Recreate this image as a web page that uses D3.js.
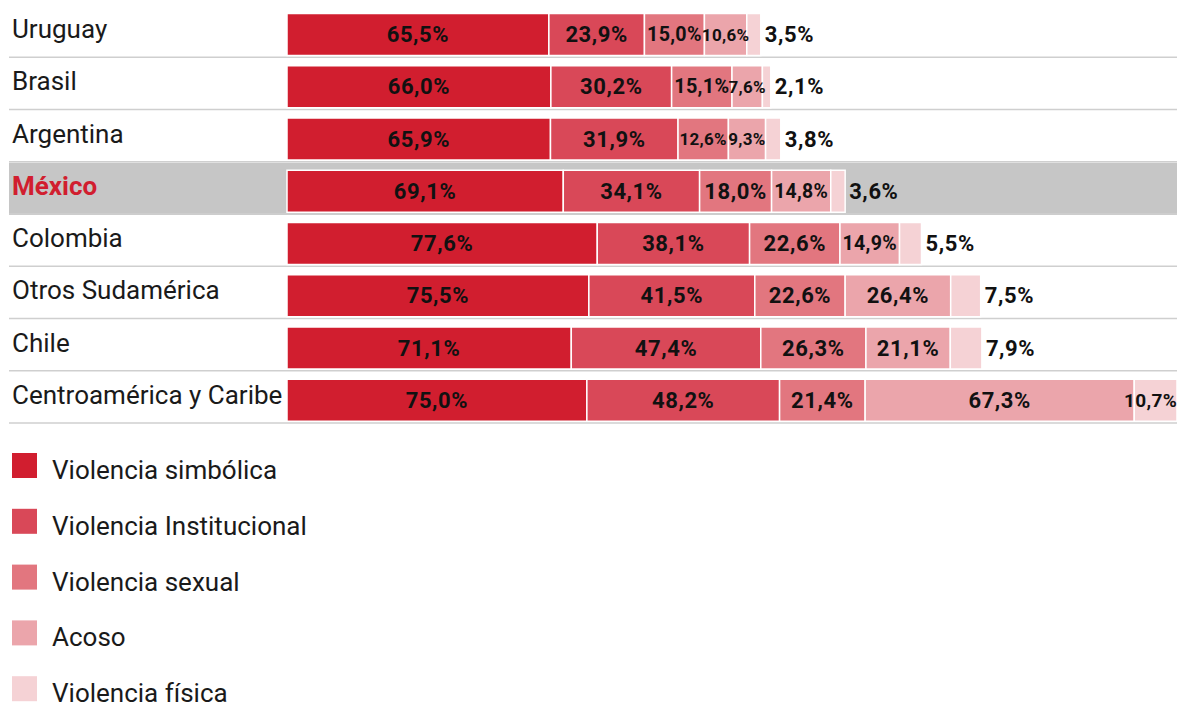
<!DOCTYPE html>
<html lang="es">
<head>
<meta charset="utf-8">
<script src="https://cdn.jsdelivr.net/npm/d3@7"></script>
<style>
  html, body { margin: 0; padding: 0; background: #fff; }
  svg { display: block; font-family: Roboto, "Noto Sans", sans-serif; }
</style>
</head>
<body>
<svg id="chart" width="1179" height="703"></svg>
<script>
// Regiones (filas) y tipos de violencia (segmentos apilados)
const regions = ["Uruguay", "Brasil", "Argentina", "México", "Colombia",
                 "Otros Sudamérica", "Chile", "Centroamérica y Caribe"];
const highlight = "México";

const violenceTypes = ["Violencia simbólica", "Violencia Institucional",
                       "Violencia sexual", "Acoso", "Violencia física"];
const typeColors = ["#d11e2f", "#d94858", "#e2767f", "#eba5ab", "#f5d2d5"];

// Porcentajes por tipo, en el orden de las regiones
const simbolica     = [65.5, 66.0, 65.9, 69.1, 77.6, 75.5, 71.1, 75.0];
const institucional = [23.9, 30.2, 31.9, 34.1, 38.1, 41.5, 47.4, 48.2];
const sexual        = [15.0, 15.1, 12.6, 18.0, 22.6, 22.6, 26.3, 21.4];
const acoso         = [10.6,  7.6,  9.3, 14.8, 14.9, 26.4, 21.1, 67.3];
const fisica        = [ 3.5,  2.1,  3.8,  3.6,  5.5,  7.5,  7.9, 10.7];

const seriesValues = [simbolica, institucional, sexual, acoso, fisica];

const rows = regions.map((r, i) => {
  const o = { region: r };
  violenceTypes.forEach((t, k) => { o[t] = seriesValues[k][i]; });
  return o;
});

const stacked = d3.stack().keys(violenceTypes)(rows);
const maxTotal = d3.max(rows, r => d3.sum(violenceTypes, t => r[t]));

const barLeft = 287, barRight = 1177;
const x = d3.scaleLinear().domain([0, maxTotal]).range([barLeft, barRight]);
const y = d3.scaleBand().domain(regions).range([5, 423]).padding(0);
const color = d3.scaleOrdinal().domain(violenceTypes).range(typeColors);
const fmt = v => d3.format(".1f")(v).replace(".", ",") + "%";

const svg = d3.select("#chart");

// Franja de resaltado
svg.append("rect")
  .attr("x", 9).attr("y", y(highlight) + 1)
  .attr("width", barRight - 9).attr("height", y.bandwidth())
  .attr("fill", "#c6c6c6");

// Separadores entre filas
svg.append("g").selectAll("line")
  .data(regions)
  .join("line")
  .attr("x1", 9).attr("x2", barRight)
  .attr("y1", d => y(d) + y.bandwidth())
  .attr("y2", d => y(d) + y.bandwidth())
  .attr("stroke", "#cfcfcf").attr("stroke-width", 1.5);

// Nombres de región
svg.append("g").selectAll("text")
  .data(regions)
  .join("text")
  .attr("x", 12)
  .attr("y", d => y(d) + 33)
  .attr("font-size", 26)
  .attr("font-weight", d => d === highlight ? 700 : 400)
  .attr("fill", d => d === highlight ? "#d11e2f" : "#1a1a1a")
  .text(d => d);

const barTop = d => y(d) + 8.5;
const barH = 42;

// Segmentos
const layers = svg.append("g").selectAll("g")
  .data(stacked)
  .join("g")
  .attr("fill", d => color(d.key));

layers.selectAll("rect")
  .data(d => d)
  .join("rect")
  .attr("x", d => x(d[0]))
  .attr("y", d => barTop(d.data.region))
  .attr("width", d => x(d[1]) - x(d[0]))
  .attr("height", barH)
  .attr("stroke", "#fff")
  .attr("stroke-width", 1.5);

// Etiquetas de valor
const baseSize = 22;
const labels = svg.append("g");
stacked.forEach((layer, k) => {
  const last = k === stacked.length - 1;
  layer.forEach(d => {
    const v = d[1] - d[0];
    const x0 = x(d[0]), x1 = x(d[1]);
    const t = labels.append("text")
      .attr("y", barTop(d.data.region) + barH / 2)
      .attr("dominant-baseline", "central")
      .attr("font-size", baseSize)
      .attr("font-weight", 700)
      .attr("letter-spacing", 0.6)
      .attr("fill", "#111")
      .text(fmt(v));
    const len = t.node().getComputedTextLength();
    if (last) {
      if (x1 + 4 + len > barRight) {
        t.attr("font-size", 19).attr("letter-spacing", 0.3);
        t.attr("x", barRight).attr("text-anchor", "end");
      } else {
        t.attr("x", x1 + 4).attr("text-anchor", "start");
      }
    } else {
      const room = (x1 - x0) - 4;
      if (len > room) {
        t.attr("font-size", Math.max(17, baseSize * room / len))
         .attr("letter-spacing", 0.3);
      }
      t.attr("x", (x0 + x1) / 2).attr("text-anchor", "middle");
    }
  });
});

// Leyenda
const legend = svg.append("g").selectAll("g")
  .data(violenceTypes)
  .join("g")
  .attr("transform", (d, i) => `translate(12, ${453 + i * 55.8})`);

legend.append("rect")
  .attr("width", 25).attr("height", 25)
  .attr("fill", d => color(d));

legend.append("text")
  .attr("x", 40).attr("y", 26)
  .attr("font-size", 26)
  .attr("fill", "#1a1a1a")
  .text(d => d);
</script>
</body>
</html>
